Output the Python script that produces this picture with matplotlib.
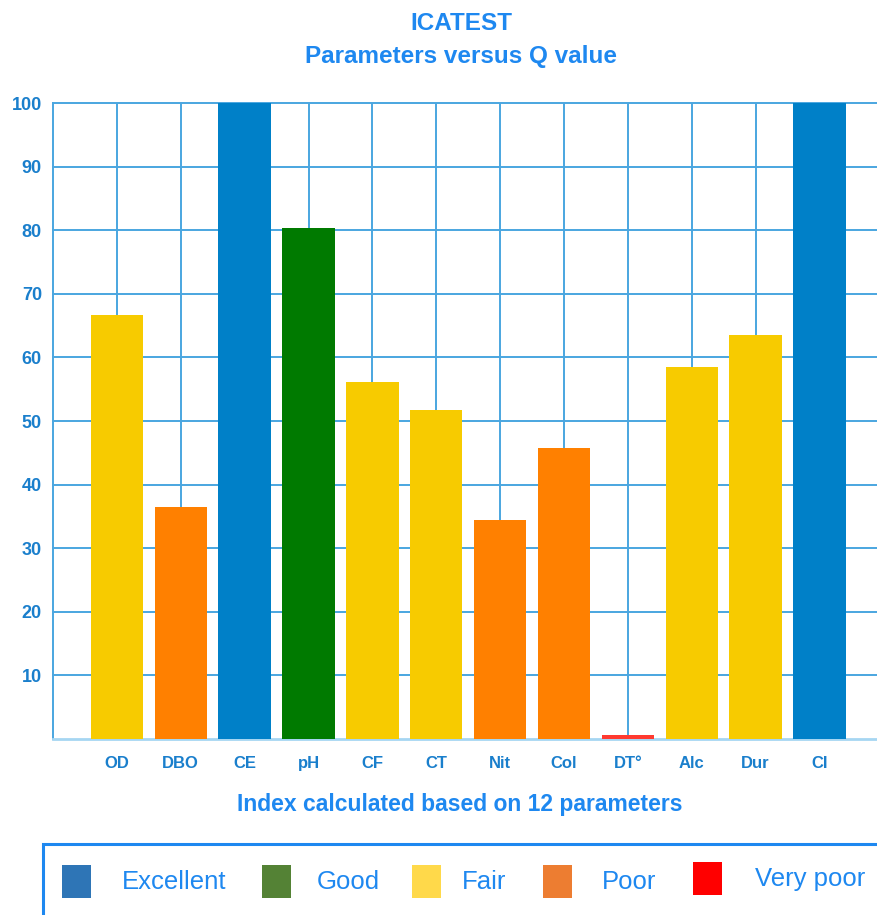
import matplotlib
matplotlib.use("Agg")
import matplotlib.pyplot as plt
from matplotlib.patches import Rectangle

plt.rcParams['font.family'] = ['Liberation Sans', 'DejaVu Sans']

categories = ["OD", "DBO", "CE", "pH", "CF", "CT", "Nit", "Col", "DT\u00b0", "Alc", "Dur", "CI"]
q_values = [66.7, 36.5, 100, 80.3, 56.1, 51.7, 34.4, 45.8, 0.6, 58.5, 63.5, 100]
bar_colors = ["#F7CB00", "#FF8000", "#0080C8", "#007A00", "#F7CB00", "#F7CB00",
              "#FF8000", "#FF8000", "#FF3A30", "#F7CB00", "#F7CB00", "#0080C8"]
y_ticks = [10, 20, 30, 40, 50, 60, 70, 80, 90, 100]
legend_labels = ["Excellent", "Good", "Fair", "Poor", "Very poor"]
legend_colors = ["#2E75B6", "#548235", "#FFD94A", "#ED7D31", "#FF0000"]

title_color = "#1E88F0"
tick_color = "#1A7FCC"
grid_color = "#4AA6E0"

W, H = 877, 915
fig = plt.figure(figsize=(W / 100, H / 100), dpi=100)
ax = fig.add_axes([53 / W, 1 - 739 / H, 1 - 53 / W, (739 - 103) / H])

x = list(range(len(categories)))
ax.set_xlim(-1, 11.9)
ax.set_ylim(0, 100)
ax.set_xticks(x)
ax.set_xticklabels(categories, fontweight='bold', fontsize=12, color=tick_color)
ax.set_yticks(y_ticks)
ax.set_yticklabels([str(v) for v in y_ticks], fontweight='bold', fontsize=13, color=tick_color)
ax.tick_params(axis='both', which='both', length=0)
ax.tick_params(axis='x', pad=12)
ax.tick_params(axis='y', pad=8)

ax.grid(True, axis='both', color=grid_color, linewidth=1.4)
ax.set_axisbelow(True)
for gl in ax.get_ygridlines():
    gl.set_clip_on(False)
for s in ['top', 'right']:
    ax.spines[s].set_visible(False)
ax.spines['left'].set_color(grid_color)
ax.spines['left'].set_linewidth(1.4)
ax.spines['bottom'].set_color('#A6D6F2')
ax.spines['bottom'].set_linewidth(2)

ax.bar(x, q_values, width=0.82, color=bar_colors, zorder=3)

fig.text(461 / W, 1 - 23 / H, "ICATEST", ha='center', va='center', fontsize=17.5,
         fontweight='bold', color=title_color)
fig.text(461 / W, 1 - 56 / H, "Parameters versus Q value", ha='center', va='center', fontsize=17.5,
         fontweight='bold', color=title_color)
fig.text(460 / W, 1 - 804 / H, "Index calculated based on 12 parameters", ha='center', va='center',
         fontsize=16.5, fontweight='bold', color=title_color)

# legend box
fig.patches.append(Rectangle((43 / W, -0.05), 1.0, (915 - 844) / H + 0.05, transform=fig.transFigure,
                             fill=False, edgecolor=title_color, linewidth=2.2))
patch_x = [62, 262, 412, 543, 693]
text_x = [122, 317, 462, 602, 755]
for px, tx, lab, col in zip(patch_x, text_x, legend_labels, legend_colors):
    yc = 882 if lab != "Very poor" else 879
    fig.patches.append(Rectangle((px / W, 1 - (yc + 16) / H), 29 / W, 33 / H,
                                 transform=fig.transFigure, facecolor=col, edgecolor='none'))
    fig.text(tx / W, 1 - yc / H, lab, ha='left', va='center', fontsize=18.5, color=title_color)

fig.savefig("out.png", dpi=100)
